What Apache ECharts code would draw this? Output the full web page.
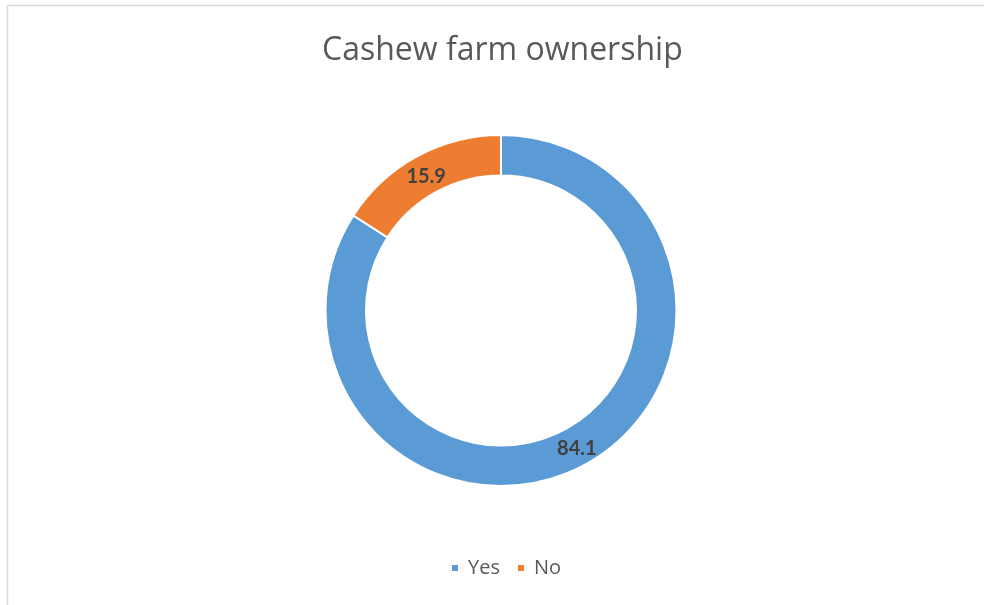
<!DOCTYPE html>
<html>
<head>
<meta charset="utf-8">
<script src="https://cdn.jsdelivr.net/npm/echarts@6/dist/echarts.min.js"></script>
<style>
  html, body { margin: 0; padding: 0; background: #fff; }
  #chart { width: 984px; height: 605px; }
</style>
</head>
<body>
<div id="chart"></div>
<script>
// Share of cashew farmers who own their farm (%)
const categories = ['Yes', 'No'];
const shares = [84.1, 15.9];
const colors = ['#5B9BD5', '#ED7D31'];
// nudges for the value labels inside each ring segment
const labelOffsets = [[0, -1], [1, 5]];

const chart = echarts.init(document.getElementById('chart'), null, { renderer: 'canvas' });

const textFont = '"Open Sans", "Noto Sans", sans-serif';
const labelFont = 'Lato, "Noto Sans", sans-serif';

chart.setOption({
  backgroundColor: '#ffffff',
  animation: false,
  title: {
    text: 'Cashew farm ownership',
    left: 322,
    top: 35,
    padding: 0,
    textStyle: {
      fontFamily: textFont,
      fontWeight: 'normal',
      fontSize: 32,
      color: '#595959'
    }
  },
  legend: {
    left: 445,
    bottom: 22,
    icon: 'rect',
    itemWidth: 8,
    itemHeight: 8,
    itemGap: 16,
    textStyle: {
      fontFamily: textFont,
      fontSize: 20,
      color: '#595959',
      padding: [0, 0, 0, 4]
    },
    data: categories
  },
  graphic: [{
    type: 'rect',
    silent: true,
    shape: { x: 7.5, y: 5.5, width: 1000, height: 700 },
    style: { fill: 'none', stroke: '#d9d9d9', lineWidth: 1.5 }
  }],
  series: [{
    type: 'pie',
    center: [501, 310.5],
    radius: [135, 175.5],
    startAngle: 90,
    clockwise: true,
    avoidLabelOverlap: false,
    itemStyle: { borderColor: '#ffffff', borderWidth: 2 },
    label: {
      show: true,
      position: 'inside',
      formatter: p => p.value.toFixed(1),
      fontFamily: labelFont,
      fontWeight: 'bold',
      fontSize: 20,
      color: '#404040'
    },
    labelLine: { show: false },
    emphasis: { disabled: true },
    data: categories.map((name, i) => ({
      name: name,
      value: shares[i],
      itemStyle: { color: colors[i] },
      label: { offset: labelOffsets[i] }
    }))
  }]
});
</script>
</body>
</html>
